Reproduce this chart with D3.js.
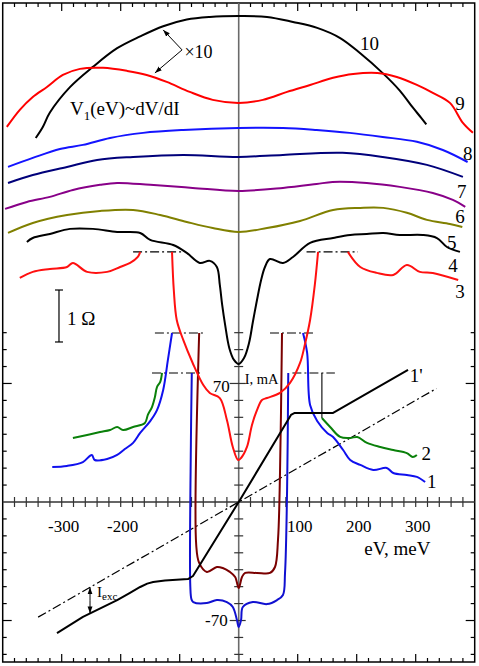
<!DOCTYPE html>
<html><head><meta charset="utf-8">
<script src="https://cdn.jsdelivr.net/npm/d3@7"></script>
<style>body{margin:0;background:#fff}svg{display:block}text{font-family:"Liberation Serif","Times New Roman",serif;fill:#000}</style>
</head><body><svg id="c" width="479" height="666"></svg>
<script>
// ---- data (x: eV in meV, y: I in mA / offset dV/dI in the same vertical units) ----
const xTickLabels = [-300, -200, 100, 200, 300];
const yTickLabels = [70, -70];

const curve10 = [[-344,215],[-332,221.5],[-320,230],[-286,245],[-247,257],[-206,268],[-167,275],[-128,281],[-88,285],[-49,286.5],[0,287],[48,286.5],[92,283.5],[133,280],[172,274],[206,265],[245,253],[273,243],[295,233],[309,227],[318,223]];
const curve9 = [[-393,221.5],[-371,231.6],[-349,239.2],[-325,245.1],[-298,252.2],[-269,255.8],[-230,256.4],[-189,254.6],[-156,252.2],[-122,248.1],[-83,242.2],[-44,237.5],[0,235.7],[41,237.5],[82,242.2],[121,246.3],[160,250.5],[194,252.8],[235,253.4],[268,251],[302,246.3],[329,241.6],[358,235.7],[380,223.9],[397,218]];
const curve8 = [[-391,197.9],[-349,203.2],[-303,208.5],[-264,210.9],[-218,215],[-162,218],[-94,219.7],[0,220.9],[75,220.9],[132,219.7],[188,218],[244,215.6],[302,212.7],[346,207.9],[388,200.8]];
const curve7 = [[-391,188.4],[-349,193.1],[-291,197.9],[-240,202],[-179,203.8],[-94,205],[0,203.8],[75,205],[176,206.2],[244,203.8],[319,199.1],[380,192]];
const curve6 = [[-396,173.1],[-359,177.2],[-320,180.2],[-281,184.3],[-235,187.3],[-206,188.4],[-150,187.3],[-78,185.5],[0,183.7],[75,185.5],[132,187.8],[159,189],[217,188.4],[273,186.1],[329,182.5],[363,178.4],[384,174.3]];
const curve5 = [[-391,158.9],[-349,164.8],[-291,169.5],[-235,171.9],[-179,172.5],[-133,169.5],[-88,165.4],[-44,161.8],[0,159.5],[48,161.8],[104,166],[160,172.5],[206,173.7],[245,173.7],[285,170.8],[319,166.6],[358,164.2],[379,162.4]];
const curve4 = [[-359,153.6],[-349,155.9],[-320,158.3],[-286,161.3],[-247,161.3],[-206,159.5],[-167,158.9],[-150,154.8],[-111,151.8],[-88,147.1],[-66,141.2],[-49,142.4],[-37,138.8],[-32,128.2],[-28,116.4],[-23,104.6],[-16,91],[-8,83.9],[0,81.5],[9,85],[17.5,93.9],[24,106.3],[31,119.3],[38,131.1],[44.5,138.8],[53,143.5],[75,141.2],[92,144.7],[121,153],[160,155.9],[189,157.7],[217,158.3],[245,158.9],[273,157.7],[312,157.7],[336,155.9],[353,150.6],[375,147.7]];
const curve3Left = [[-371,132.3],[-349,135.9],[-320,137.6],[-291,138.8],[-281,141.2],[-257,135.9],[-223,135.9],[-201,138.8],[-184,141.2],[-171,144.7],[-167,147.7]];
const curve3Mid = [[-113,147.7],[-110,125.2],[-105,107.5],[-94,95.7],[-78,82.1],[-60,69.1],[-49,64.4],[-32,61.4],[-20,48.4],[-10,32.5],[-1,24.8],[4,26],[14,32.5],[22.5,45.5],[31,54.3],[39.5,60.3],[48,61.4],[70,64.4],[87,70.3],[104,82.1],[112,92.7],[121,107.5],[129,128.2],[134.5,147.7]];
const curve3Right = [[185,147.7],[206,138.8],[234,135.3],[262,134.1],[285,140],[307,135.9],[329,135.3],[372,131.1]];
const curve2Left = [[-281,37.8],[-257,39.6],[-235,41.3],[-218,42.5],[-206,44.3],[-196,42.5],[-179,44.3],[-159,46.7],[-154,51.4],[-147,56.1],[-142,62],[-138.5,67.9],[-133,70.9],[-130,76.2]];
const curve2Right = [[141,49.6],[155,44.3],[172,38.4],[189,37.8],[201,38.4],[217.5,34.9],[240,32.5],[262,30.7],[285,28.9],[295,26.6],[302,27.8]];
const curve1Left = [[-316,20.7],[-291,21.3],[-264,23.6],[-249,27.8],[-244,24.8],[-223,25.4],[-206,27.8],[-193,31.3],[-179,34.9],[-167,40.8],[-150,47.8],[-138.5,54.3],[-128,66.2],[-120,83.9],[-113,99.8]];
const curve1Mid = [[-79.5,76.2],[-81,36],[-82,-50],[-80,-57.5],[-77,-59.1],[-54,-59.7],[-37,-57.9],[-20,-59.1],[-10,-62],[-3,-69.7],[0,-73.8],[4,-69.7],[7,-62],[24,-59.1],[48,-60.3],[65,-57.9],[75,-54.9],[78.5,-42],[82,7],[84,76.2]];
const curve1Right = [[109,99.8],[116,88],[121,57.3],[133,47.8],[150,40.8],[160,38.4],[177,30.7],[189,24.8],[206,21.9],[228,18.9],[251,20.1],[262,17.1],[285,15.9],[302,14.8],[316,11.8]];
const curveBrown = [[-67,99.8],[-72,-25.4],[-67,-36],[-54,-41.3],[-37,-38.4],[-27,-39],[-15,-41.3],[-6,-44.3],[0,-50.8],[5.6,-44.3],[11,-41.9],[31,-41.9],[53,-41.9],[61.5,-38.4],[66.6,-22.4],[70,17.1],[73.4,99.8]];
const curve1p = [[-308,-77.4],[-264,-67.9],[-206,-57.9],[-185,-53.8],[-167,-50.2],[-155,-48.2],[-145,-47.3],[-125,-46.4],[-86,-45.5],[-77.5,-43.7],[0,0],[88.6,51.4],[95,52.6],[160,52.6],[287,78]];
const ohmic = [[-340,-68],[335,67]];
const clipLevels = [[147.7,-179,-96],[147.7,115,202],[99.8,-142,-57],[99.8,53,130],[76.2,-147,-62],[76.2,91,163]];
const connector = [[141,76.2],[141,49.6]];
const curveLabels = [["10",205.6,267],["9",367,231.6],["8",380,202],["7",370,179.6],["6",367,164.8],["5",353,149.5],["4",355,135.9],["3",367,120.5],["1'",290,70.9],["2",310,24.8],["1",319,8.3]];

// ---- scales ----
const x = d3.scaleLinear().domain([-400, 400]).range([2.7, 474.7]);
const y = d3.scaleLinear().domain([-94.5, 294.7]).range([662, 3]);
const svg = d3.select("#c");

// frame
svg.append("rect").attr("x", x(-400)).attr("y", y(294.7)).attr("width", x(400)-x(-400)).attr("height", y(-94.5)-y(294.7))
  .attr("fill", "none").attr("stroke", "#000").attr("stroke-width", 1.5);

// frame ticks top/bottom
const xMinor = d3.range(-380, 381, 20);
const g = svg.append("g").attr("stroke", "#000").attr("stroke-width", 1.2);
xMinor.forEach(v => {
  const L = (v % 100 === 0) ? 8 : 4;
  g.append("line").attr("x1", x(v)).attr("x2", x(v)).attr("y1", y(294.7)).attr("y2", y(294.7)+L);
  g.append("line").attr("x1", x(v)).attr("x2", x(v)).attr("y1", y(-94.5)).attr("y2", y(-94.5)-L);
});
// frame ticks left/right
const yMinor = d3.range(-90, 101, 10).filter(v => v !== 0);
yMinor.forEach(v => {
  const L = (Math.abs(v) === 70) ? 9 : 4;
  g.append("line").attr("x1", x(-400)).attr("x2", x(-400)+L).attr("y1", y(v)).attr("y2", y(v));
  g.append("line").attr("x1", x(400)).attr("x2", x(400)-L).attr("y1", y(v)).attr("y2", y(v));
});

// central axes
svg.append("line").attr("x1", x(0)).attr("x2", x(0)).attr("y1", y(294.7)).attr("y2", y(-94.5))
  .attr("stroke", "#6a6a6a").attr("stroke-width", 1.6);
svg.append("line").attr("x1", x(-400)).attr("x2", x(400)).attr("y1", y(0)).attr("y2", y(0))
  .attr("stroke", "#333").attr("stroke-width", 1.5);
const ga = svg.append("g").attr("stroke", "#333").attr("stroke-width", 1.2);
xMinor.filter(v => v !== 0).forEach(v => {
  ga.append("line").attr("x1", x(v)).attr("x2", x(v)).attr("y1", y(0)-5).attr("y2", y(0)+5);
});
yMinor.forEach(v => {
  const L = (Math.abs(v) === 70) ? 9 : 4.5;
  ga.append("line").attr("x1", x(0)-L).attr("x2", x(0)+(Math.abs(v)===70?7:4.5)).attr("y1", y(v)).attr("y2", y(v));
});

// tick labels
svg.selectAll("text.xt").data(xTickLabels).enter().append("text")
  .attr("x", d => x(d)+2).attr("y", y(0)+30).attr("text-anchor", "middle").attr("font-size", 17).text(d => d);
svg.append("text").attr("x", x(0)-9).attr("y", y(70)+8.5).attr("text-anchor", "end").attr("font-size", 17).text(yTickLabels[0]);
svg.append("text").attr("x", x(0)-11).attr("y", y(-70)+5.5).attr("text-anchor", "end").attr("font-size", 17).text(yTickLabels[1]);
svg.append("text").attr("x", x(0)+6).attr("y", y(70)+1).attr("font-size", 14.5).text("I, mA");
svg.append("text").attr("x", x(325)).attr("y", y(0)+53).attr("text-anchor", "end").attr("font-size", 19).text("eV, meV");

// line generators
const smooth = d3.line().x(d => x(d[0])).y(d => y(d[1])).curve(d3.curveCatmullRom.alpha(0.5));
const straight = d3.line().x(d => x(d[0])).y(d => y(d[1]));

// dash-dot lines
const dd = "9,3,2,3";
svg.append("path").attr("d", straight(ohmic)).attr("fill", "none").attr("stroke", "#000").attr("stroke-width", 1.2).attr("stroke-dasharray", dd);
clipLevels.forEach(c => {
  svg.append("path").attr("d", straight([[c[1], c[0]], [c[2], c[0]]])).attr("fill", "none")
    .attr("stroke", "#000").attr("stroke-width", 1.1).attr("stroke-dasharray", dd);
});
svg.append("path").attr("d", straight(connector)).attr("fill", "none").attr("stroke", "#000").attr("stroke-width", 1.1);

// curves
const series = [
  [curve10, "#000"], [curve9, "#ff0000"], [curve8, "#1414ff"], [curve7, "#00007a"],
  [curve6, "#880088"], [curve5, "#808000"], [curve4, "#000"],
  [curve3Left, "#ff1010"], [curve3Right, "#ff1010"],
  [curve2Left, "#0a800a"], [curve2Right, "#0a800a"],
  [curve1Left, "#1010ee"], [curve1Right, "#1010ee"],
  [curveBrown, "#7a0000"], [curve1Mid, "#1010d0"], [curve3Mid, "#ff1010"]
];
series.forEach(s => {
  svg.append("path").attr("d", smooth(s[0])).attr("fill", "none").attr("stroke", s[1])
    .attr("stroke-width", 2).attr("stroke-linejoin", "round");
});
svg.append("path").attr("d", straight(curve1p)).attr("fill", "none").attr("stroke", "#000")
  .attr("stroke-width", 2).attr("stroke-linejoin", "round");

// curve labels
svg.selectAll("text.cl").data(curveLabels).enter().append("text")
  .attr("x", d => x(d[1])).attr("y", d => y(d[2])).attr("font-size", 19).text(d => d[0]);

// arrow markers
const defs = svg.append("defs");
defs.append("marker").attr("id", "ah").attr("viewBox", "0 0 10 10").attr("refX", 10).attr("refY", 5)
  .attr("markerWidth", 7).attr("markerHeight", 7).attr("orient", "auto-start-reverse").attr("markerUnits", "userSpaceOnUse")
  .append("path").attr("d", "M0,1.5 L10,5 L0,8.5 Z").attr("fill", "#000");

// x10 annotation
const vtx = [-96, 267];
svg.append("path").attr("d", straight([vtx, [-128, 278.8]])).attr("stroke", "#000").attr("stroke-width", 1).attr("fill", "none").attr("marker-end", "url(#ah)");
svg.append("path").attr("d", straight([vtx, [-142, 253.4]])).attr("stroke", "#000").attr("stroke-width", 1).attr("fill", "none").attr("marker-end", "url(#ah)");
svg.append("text").attr("x", x(-92)).attr("y", y(262)).attr("font-size", 18).text("\u00d710");

// V1(eV)~dV/dI
const t1 = svg.append("text").attr("x", x(-286)).attr("y", y(228.6)).attr("font-size", 19);
t1.append("tspan").text("V");
t1.append("tspan").attr("font-size", 13).attr("dy", 5).text("1");
t1.append("tspan").attr("dy", -5).text("(eV)~dV/dI");

// 1 Ohm scale bar
const sb = svg.append("g").attr("stroke", "#000").attr("stroke-width", 1.2);
sb.append("line").attr("x1", x(-304.6)).attr("x2", x(-304.6)).attr("y1", y(125.2)).attr("y2", y(94.5));
sb.append("line").attr("x1", x(-304.6)-4).attr("x2", x(-304.6)+4).attr("y1", y(125.2)).attr("y2", y(125.2));
sb.append("line").attr("x1", x(-304.6)-4).attr("x2", x(-304.6)+4).attr("y1", y(94.5)).attr("y2", y(94.5));
svg.append("text").attr("x", x(-291)).attr("y", y(104.6)).attr("font-size", 19).text("1 \u03a9");

// I_exc arrow
svg.append("path").attr("d", straight([[-252, -58], [-252, -50.4]])).attr("stroke", "#000").attr("stroke-width", 1).attr("fill", "none").attr("marker-end", "url(#ah)");
svg.append("path").attr("d", straight([[-252, -58], [-252, -65.8]])).attr("stroke", "#000").attr("stroke-width", 1).attr("fill", "none").attr("marker-end", "url(#ah)");
const t2 = svg.append("text").attr("x", x(-240)).attr("y", y(-56.3)).attr("font-size", 15);
t2.append("tspan").text("I");
t2.append("tspan").attr("font-size", 11).attr("dy", 3).text("exc");
</script></body></html>
